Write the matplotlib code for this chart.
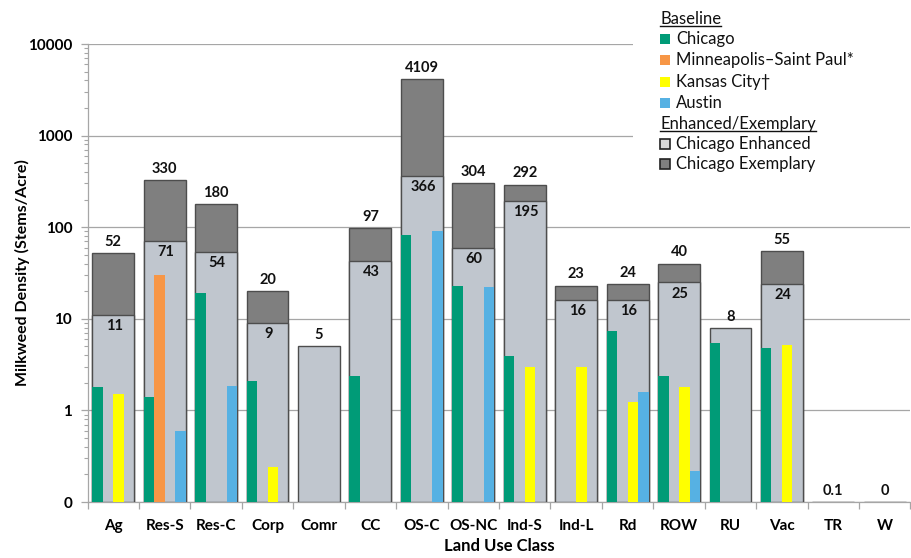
import numpy as np
import matplotlib
matplotlib.use("Agg")
import matplotlib.pyplot as plt
from matplotlib.patches import Rectangle
from matplotlib.lines import Line2D
from matplotlib.ticker import FixedLocator, LogLocator, NullFormatter

nan = np.nan

# Land use classes
categories = ["Ag", "Res-S", "Res-C", "Corp", "Comr", "CC", "OS-C", "OS-NC",
              "Ind-S", "Ind-L", "Rd", "ROW", "RU", "Vac", "TR", "W"]

# Chicago enhanced / exemplary densities (stems per acre)
enhanced = [11, 71, 54, 9, 5, 43, 366, 60, 195, 16, 16, 25, 8, 24, 0.1, 0]
exemplary = [52, 330, 180, 20, nan, 97, 4109, 304, 292, 23, 24, 40, nan, 55, nan, nan]
enhanced_labels = ["11", "71", "54", "9", "5", "43", "366", "60", "195", "16",
                   "16", "25", "8", "24", "0.1", "0"]

# Baseline densities by city
chicago = [1.8, 1.4, 19, 2.1, nan, 2.4, 82, 23, 3.9, nan, 7.4, 2.4, 5.4, 4.8, nan, nan]
minneapolis = [nan, 30, nan, nan, nan, nan, nan, nan, nan, nan, nan, nan, nan, nan, nan, nan]
kansas_city = [1.5, nan, nan, 0.24, nan, nan, nan, nan, 3.0, 3.0, 1.24, 1.8, nan, 5.2, nan, nan]
austin = [nan, 0.6, 1.85, nan, nan, nan, 92, 22, nan, nan, 1.6, 0.22, nan, nan, nan, nan]

y_ticks = [0.1, 1, 10, 100, 1000, 10000]
y_tick_labels = ["0", "1", "10", "100", "1000", "10000"]

baseline_names = ["Chicago", "Minneapolis\u2013Saint Paul*", "Kansas City\u2020", "Austin"]
baseline_colors = ["#009B77", "#F79646", "#FFFF00", "#56B1E3"]
enh_color = "#C0C6CE"
exm_color = "#7F7F7F"
edge_color = "#4D4D4D"

FONT = "Lato"
plt.rcParams["font.family"] = [FONT, "DejaVu Sans"]

W, H = 912, 558
fig = plt.figure(figsize=(W / 100, H / 100), dpi=100)
ax = fig.add_axes([87.5 / W, 1 - 502 / H, (910.5 - 87.5) / W, (502 - 44) / H])

floor = 0.1
x = np.arange(len(categories))
wide = 0.815
narrow = wide / 4

ax.set_yscale("log")
ax.set_ylim(floor, 10000)
ax.set_xlim(-0.5, len(categories) - 0.5)

# Exemplary (dark) behind, enhanced (light) in front
ex_arr = np.array(exemplary, dtype=float)
en_arr = np.maximum(np.array(enhanced, dtype=float), floor)
mask = ~np.isnan(ex_arr)
ax.bar(x[mask], ex_arr[mask] - floor, bottom=floor, width=wide, color=exm_color,
       edgecolor=edge_color, linewidth=1.0, zorder=2)
ax.bar(x, en_arr - floor, bottom=floor, width=wide, color=enh_color,
       edgecolor=edge_color, linewidth=1.0, zorder=3)

# Baseline bars, four slots per class
for i, (vals, col) in enumerate(zip([chicago, minneapolis, kansas_city, austin], baseline_colors)):
    v = np.array(vals, dtype=float)
    m = ~np.isnan(v)
    offs = (i - 1.5) * narrow
    ax.bar(x[m] + offs, v[m] - floor, bottom=floor, width=narrow, color=col,
           linewidth=0, zorder=4)

# Value labels
lab_kw = dict(ha="center", fontsize=10.5, fontweight="bold", color="#111111", zorder=6)
for xi, ex, en, lab in zip(x, ex_arr, en_arr, enhanced_labels):
    if not np.isnan(ex):
        ax.annotate(f"{ex:g}", (xi, ex), xytext=(0, 3), textcoords="offset points",
                    va="bottom", **lab_kw)
        ax.annotate(lab, (xi + 0.02, en), xytext=(0, -3), textcoords="offset points",
                    va="top", **lab_kw)
    else:
        ax.annotate(lab, (xi, en), xytext=(0, 3), textcoords="offset points",
                    va="bottom", **lab_kw)

# Axes styling
ax.yaxis.set_major_locator(FixedLocator(y_ticks))
ax.set_yticklabels(y_tick_labels)
ax.yaxis.set_minor_locator(LogLocator(base=10, subs=np.arange(2, 10)))
ax.yaxis.set_minor_formatter(NullFormatter())
ax.grid(axis="y", which="major", color="#A6A6A6", linewidth=0.9, zorder=0)
ax.set_axisbelow(True)

ax.set_xticks(x)
ax.set_xticklabels(categories)
ax.set_xticks(np.arange(-0.5, len(categories), 1), minor=True)
ax.tick_params(axis="x", which="major", length=0, pad=12)
ax.tick_params(axis="x", which="minor", length=5, color="#A6A6A6", width=0.9)
ax.tick_params(axis="y", which="major", length=5, color="#A6A6A6", width=0.9, pad=6)
ax.tick_params(axis="y", which="minor", length=3, color="#A6A6A6", width=0.8)
for lab in ax.get_xticklabels() + ax.get_yticklabels():
    lab.set_fontweight("bold")
    lab.set_fontsize(11)

for s in ["top", "right"]:
    ax.spines[s].set_visible(False)
for s in ["left", "bottom"]:
    ax.spines[s].set_color("#A6A6A6")
    ax.spines[s].set_linewidth(0.9)

ax.set_xlabel("Land Use Class", fontsize=12, fontweight="bold", labelpad=4)
ax.set_ylabel("Milkweed Density (Stems/Acre)", fontsize=11.5, fontweight="bold")
ax.yaxis.set_label_coords((22 - 87.5) / (910.5 - 87.5), 0.5)
ax.yaxis.label.set_va("center")

# Legend drawn in figure pixel coordinates
def fx(px):
    return px / W

def fy(py):
    return 1 - py / H

fig.patches.append(Rectangle((fx(633), fy(176)), fx(912 - 633), 176 / H,
                             transform=fig.transFigure, facecolor="white",
                             edgecolor="none", zorder=5))

leg_fs = 12
marker_x = 660
text_x = 676
rows = [("Baseline", None, None),
        (baseline_names[0], baseline_colors[0], "none"),
        (baseline_names[1], baseline_colors[1], "none"),
        (baseline_names[2], baseline_colors[2], "none"),
        (baseline_names[3], baseline_colors[3], "none"),
        ("Enhanced/Exemplary", None, None),
        ("Chicago Enhanced", "#D9D9D9", "#222222"),
        ("Chicago Exemplary", "#7F7F7F", "#222222")]
row_y = [19, 39, 60, 82, 103, 124, 144, 164]

headers = []
for (label, fc, ec), py in zip(rows, row_y):
    if fc is None:
        t = fig.text(fx(marker_x), fy(py), label, fontsize=leg_fs, va="center",
                     ha="left", color="#111111", zorder=6)
        headers.append(t)
    else:
        sz = 10
        fig.patches.append(Rectangle((fx(marker_x), fy(py + sz / 2)), fx(sz), sz / H,
                                     transform=fig.transFigure, facecolor=fc,
                                     edgecolor=ec, linewidth=1.2, zorder=6))
        fig.text(fx(text_x), fy(py), label, fontsize=leg_fs, va="center",
                 ha="left", color="#111111", zorder=6)

fig.canvas.draw()
renderer = fig.canvas.get_renderer()
for t in headers:
    bb = t.get_window_extent(renderer)
    yline = bb.y0 + 1
    fig.lines.append(Line2D([bb.x0 / W, bb.x1 / W], [yline / H, yline / H],
                            transform=fig.transFigure, color="#111111",
                            linewidth=1.0, zorder=7))

fig.savefig("out.png", dpi=100)
